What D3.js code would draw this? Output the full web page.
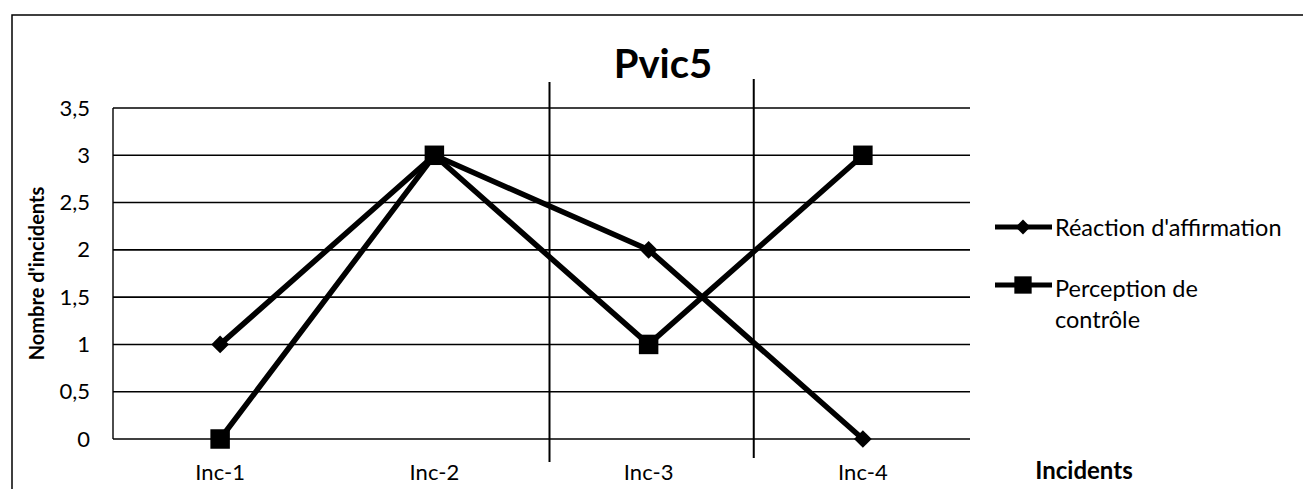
<!DOCTYPE html>
<html>
<head>
<meta charset="utf-8">
<script src="https://cdn.jsdelivr.net/npm/d3@7/dist/d3.min.js"></script>
<style>
  html, body { margin: 0; padding: 0; background: #fff; }
  svg { display: block; }
  text { font-family: Lato, "Open Sans", sans-serif; fill: #000; }
</style>
</head>
<body>
<svg id="chart" width="1303" height="489"></svg>
<script>
// Data
const categories = ["Inc-1", "Inc-2", "Inc-3", "Inc-4"];
const reactionAffirmation = [1, 3, 2, 0];
const perceptionControle = [0, 3, 1, 3];
const yTicks = [0, 0.5, 1, 1.5, 2, 2.5, 3, 3.5];
const seriesNames = ["Réaction d'affirmation", "Perception de contrôle"];
const dividerAfter = ["Inc-2", "Inc-3"];

const svg = d3.select("#chart");
const W = 1303, H = 489;
const plot = { left: 113, right: 970, top: 108, bottom: 439 };

// Outer frame
svg.append("rect")
  .attr("x", 12).attr("y", 15)
  .attr("width", W - 11).attr("height", H)
  .attr("fill", "none").attr("stroke", "#000").attr("stroke-width", 1.5);

const x = d3.scaleBand().domain(categories).range([plot.left, plot.right]);
const y = d3.scaleLinear().domain([0, 3.5]).range([plot.bottom, plot.top]);
const fmt = d => String(d).replace(".", ",");

// Horizontal gridlines
svg.append("g").selectAll("line").data(yTicks).join("line")
  .attr("x1", plot.left).attr("x2", plot.right)
  .attr("y1", d => y(d)).attr("y2", d => y(d))
  .attr("stroke", "#000").attr("stroke-width", 1.6);

// Y axis line
svg.append("line")
  .attr("x1", plot.left).attr("x2", plot.left)
  .attr("y1", y(3.5)).attr("y2", y(0))
  .attr("stroke", "#000").attr("stroke-width", 1.4);

// Y tick labels
const yAxis = d3.axisLeft(y).tickValues(yTicks).tickFormat(fmt).tickSize(0).tickPadding(23);
const gy = svg.append("g").attr("transform", `translate(${plot.left},0)`).call(yAxis);
gy.select(".domain").remove();
gy.selectAll("text").style("font-family", "Lato, 'Open Sans', sans-serif")
  .style("font-size", "22px").attr("fill", "#000");

// X tick labels
const xAxis = d3.axisBottom(x).tickSize(0).tickPadding(25);
const gx = svg.append("g").attr("transform", `translate(0,${plot.bottom})`).call(xAxis);
gx.select(".domain").remove();
gx.selectAll("text").style("font-family", "Lato, 'Open Sans', sans-serif")
  .style("font-size", "22px").attr("fill", "#000");

// Vertical divider lines between incidents
const dividerOffsets = [8, -2];
const dividerExtents = [[82, 462], [79, 458]];
svg.append("g").selectAll("line").data(dividerAfter).join("line")
  .attr("x1", (d, i) => x(d) + x.bandwidth() + dividerOffsets[i])
  .attr("x2", (d, i) => x(d) + x.bandwidth() + dividerOffsets[i])
  .attr("y1", (d, i) => dividerExtents[i][0])
  .attr("y2", (d, i) => dividerExtents[i][1])
  .attr("stroke", "#000").attr("stroke-width", 2);

// Series lines
const cx = d => x(d) + x.bandwidth() / 2;
const line = d3.line().x(d => cx(d.cat)).y(d => y(d.v));
const series = [reactionAffirmation, perceptionControle].map(vals =>
  vals.map((v, i) => ({ cat: categories[i], v })));
const diamond = d3.symbol().type(d3.symbolDiamond2).size(200);
const square = d3.symbol().type(d3.symbolSquare).size(380);

series.forEach((pts, si) => {
  svg.append("path").datum(pts).attr("d", line)
    .attr("fill", "none").attr("stroke", "#000")
    .attr("stroke-width", 5.5).attr("stroke-linejoin", "round");
  svg.append("g").selectAll("path").data(pts).join("path")
    .attr("transform", d => `translate(${cx(d.cat)},${y(d.v)})`)
    .attr("d", si === 0 ? diamond : square)
    .attr("fill", "#000");
});

// Title
svg.append("text").attr("x", 663).attr("y", 78)
  .attr("text-anchor", "middle").style("font-size", "40px").style("font-weight", "bold")
  .text("Pvic5");

// Axis titles
svg.append("text")
  .attr("transform", `translate(44,${(plot.top + plot.bottom) / 2}) rotate(-90)`)
  .attr("text-anchor", "middle").style("font-size", "20px").style("font-weight", "bold")
  .text("Nombre d'incidents");
svg.append("text").attr("x", 1084).attr("y", 479)
  .attr("text-anchor", "middle").style("font-size", "24px").style("font-weight", "bold")
  .text("Incidents");

// Legend
const legend = [
  { name: seriesNames[0], sym: "diamond", y: 227, base: 236, lines: ["Réaction d'affirmation"] },
  { name: seriesNames[1], sym: "square", y: 285, base: 297, lines: ["Perception de", "contrôle"] }
];
const lg = svg.append("g");
legend.forEach(item => {
  lg.append("line").attr("x1", 995).attr("x2", 1052)
    .attr("y1", item.y).attr("y2", item.y)
    .attr("stroke", "#000").attr("stroke-width", 5);
  lg.append("path").attr("transform", `translate(1023,${item.y})`)
    .attr("d", item.sym === "diamond" ? d3.symbol().type(d3.symbolDiamond2).size(140)()
                                      : d3.symbol().type(d3.symbolSquare).size(300)())
    .attr("fill", "#000");
  const t = lg.append("text").attr("x", 1055).attr("y", item.base).style("font-size", "23.5px");
  item.lines.forEach((l, i) => {
    t.append("tspan").attr("x", 1055).attr("dy", i === 0 ? 0 : 31).text(l);
  });
});
</script>
</body>
</html>
